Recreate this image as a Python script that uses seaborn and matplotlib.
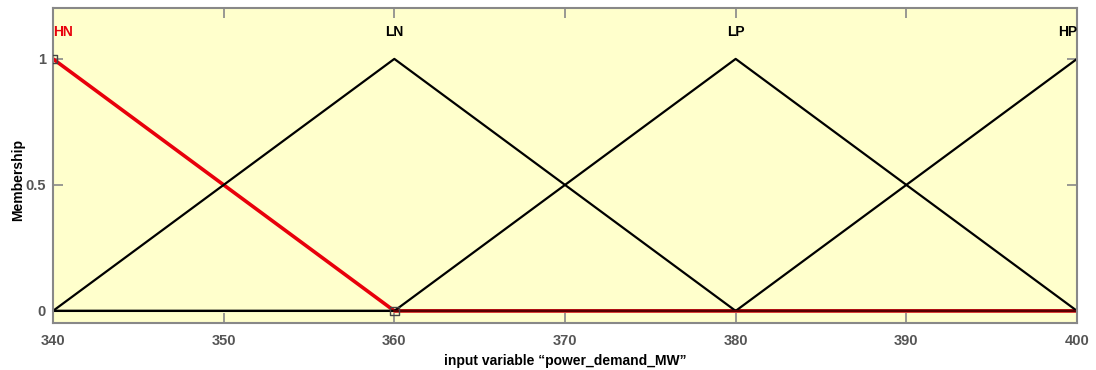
import matplotlib
matplotlib.use("Agg")
import matplotlib.pyplot as plt
import seaborn as sns
import pandas as pd

# ---- data ----
mf_names = ["HN", "LN", "LP", "HP"]
x_points = [340, 360, 380, 400]
hn_y = [1.0, 0.0, 0.0, 0.0]
ln_y = [0.0, 1.0, 0.0, 0.0]
lp_y = [0.0, 0.0, 1.0, 0.0]
hp_y = [0.0, 0.0, 0.0, 1.0]
label_x = [340, 360, 380, 400]
x_ticks = [340, 350, 360, 370, 380, 390, 400]
y_ticks = [0, 0.5, 1]
y_tick_labels = ["0", "0.5", "1"]
marker_x = [340, 360]
marker_y = [1.0, 0.0]

rows = []
for name, ys in zip(mf_names, [hn_y, ln_y, lp_y, hp_y]):
    for xv, yv in zip(x_points, ys):
        rows.append({"x": xv, "mu": yv, "mf": name})
df = pd.DataFrame(rows)

sns.set_theme(style="white")
plt.rcParams["font.family"] = ["Liberation Sans", "DejaVu Sans"]

fig = plt.figure(figsize=(10.96, 3.70), dpi=100)
ax = fig.add_axes([53/1096, 1-323/370, (1077-53)/1096, (323-8)/370])
ax.set_facecolor("#FFFFCC")

sns.lineplot(data=df[df.mf == "HN"], x="x", y="mu", estimator=None,
             color="#E8000B", linewidth=2.6, ax=ax, sort=False, legend=False)
black = df[df.mf != "HN"]
sns.lineplot(data=black, x="x", y="mu", units="mf", estimator=None,
             color="black", linewidth=1.6, ax=ax, sort=False, legend=False)
for ln in ax.lines[1:]:
    pass
# HN zero segment tinted dark red over the black zero line
sns.lineplot(x=x_points[1:], y=hn_y[1:], color="#5A0000", linewidth=1.6,
             ax=ax, legend=False)
sns.scatterplot(x=marker_x, y=marker_y, marker="s", s=40, facecolor="none",
                edgecolor="#444444", linewidth=1.0, ax=ax, zorder=5)

ax.set_xlim(340, 400)
ax.set_ylim(-0.048, 1.202)
ax.set_xticks(x_ticks)
ax.set_xticklabels([str(t) for t in x_ticks])
ax.set_yticks(y_ticks)
ax.set_yticklabels(y_tick_labels)
ax.tick_params(axis="both", direction="in", length=7, width=1.2,
               color="#888888", labelcolor="#555555", labelsize=10.5,
               top=True, right=True, bottom=True, left=True)
for lab in ax.get_xticklabels() + ax.get_yticklabels():
    lab.set_fontweight("bold")
ax.tick_params(axis="x", pad=8)
ax.tick_params(axis="y", pad=5)
for sp in ax.spines.values():
    sp.set_color("#888888")
    sp.set_linewidth(1.5)

for name, lx in zip(mf_names, label_x):
    ha = "center"
    if lx == 340:
        ha = "left"
    elif lx == 400:
        ha = "right"
    ax.text(lx, 1.107, name, ha=ha, va="center", fontsize=10,
            fontweight="bold", color="#E8000B" if name == "HN" else "black")

ax.set_xlabel("input variable \u201cpower_demand_MW\u201d", fontsize=10,
              fontweight="bold", color="black", labelpad=4)
ax.set_ylabel("Membership", fontsize=10, fontweight="bold", color="black")
ax.yaxis.set_label_coords(-0.027, 0.454)
ax.grid(False)

fig.savefig("out.png", dpi=100)
